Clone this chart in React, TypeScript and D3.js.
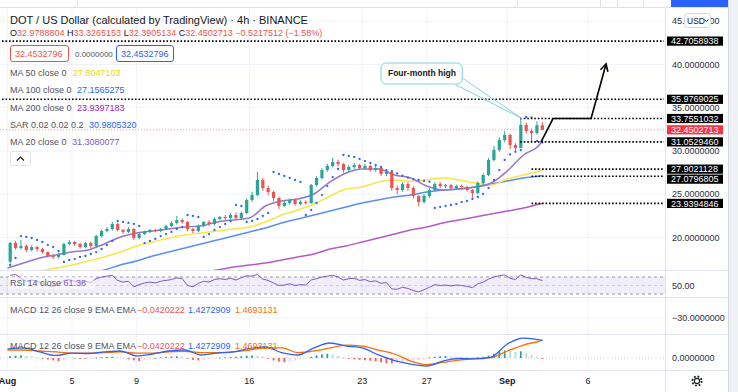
import React from "react";
import * as d3 from "d3";

// 8h candles from Aug 1 (open of first candle, then closes / highs / lows)
const firstOpen = 17.2;
const closes = [
  19.36, 18.79, 19.02, 18.55, 18.9, 18.67, 18.32, 17.86, 17.75, 17.98,
  19.25, 19.48, 19.25, 18.9, 19.36, 19.02, 20.17, 20.75, 20.98, 21.56,
  20.87, 20.64, 20.98, 19.94, 20.4, 20.64, 20.87, 20.75, 20.98, 21.33,
  21.68, 22.02, 21.79, 20.98, 20.75, 21.33, 21.79, 21.56, 22.14, 22.37,
  22.25, 22.6, 22.25, 22.83, 24.34, 24.91, 26.65, 25.72, 25.26, 24.57,
  23.64, 23.99, 24.34, 23.87, 24.1, 23.99, 26.07, 26.88, 27.8, 28.27,
  28.73, 28.5, 27.8, 28.15, 28.38, 28.03, 28.27, 27.8, 28.03, 27.34,
  27.57, 25.72, 25.49, 26.18, 25.72, 24.8, 24.1, 24.8, 25.49, 26.18,
  25.95, 26.05, 25.72, 25.95, 25.84, 25.49, 25.14, 26.3, 27.23, 28.96,
  30.12, 31.27, 31.85, 30.69, 30.35, 33.01, 32.31, 32.08, 32.98, 32.45,
];
const highs = [
  19.5, 19.6, 19.7, 19.2, 19.1, 19.0, 18.8, 18.4, 18.1, 18.2,
  19.4, 19.7, 19.6, 19.4, 19.5, 19.5, 20.3, 20.9, 21.2, 21.8,
  21.7, 21.0, 21.2, 21.1, 20.6, 20.8, 21.0, 21.0, 21.1, 21.5,
  21.9, 22.5, 22.2, 21.9, 21.1, 21.5, 21.9, 22.0, 22.3, 22.5,
  22.6, 22.8, 22.9, 23.0, 24.5, 25.3, 27.6, 26.9, 26.0, 25.4,
  24.7, 24.3, 24.5, 24.5, 24.3, 24.3, 26.2, 27.1, 28.0, 28.5,
  29.2, 29.0, 28.6, 28.4, 28.6, 28.5, 28.5, 28.4, 28.3, 28.1,
  27.75, 27.6, 26.0, 26.4, 26.4, 25.9, 24.9, 25.0, 25.7, 26.4,
  26.4, 26.2, 26.2, 26.1, 26.1, 26.0, 25.6, 26.5, 27.4, 29.2,
  30.6, 31.6, 32.3, 32.0, 30.9, 33.76, 33.3, 32.6, 33.4, 33.33,
];
const lows = [
  17.0, 18.6, 18.6, 18.3, 18.4, 18.4, 18.1, 17.7, 17.5, 17.6,
  17.9, 19.1, 19.0, 18.7, 18.8, 18.8, 18.9, 20.0, 20.6, 20.8,
  20.7, 20.4, 20.5, 19.7, 19.8, 20.3, 20.5, 20.6, 20.6, 20.9,
  21.2, 21.5, 21.6, 20.7, 20.5, 20.6, 21.2, 21.3, 21.4, 22.0,
  22.0, 22.1, 22.0, 22.1, 22.7, 24.1, 24.8, 25.4, 24.9, 24.2,
  23.3, 23.5, 23.8, 23.7, 23.7, 23.8, 23.9, 25.9, 26.7, 27.6,
  28.1, 28.2, 27.5, 27.6, 27.9, 27.8, 27.8, 27.6, 27.6, 27.1,
  27.1, 25.4, 25.0, 25.3, 25.4, 24.5, 23.6, 23.9, 24.6, 25.3,
  25.7, 25.7, 25.5, 25.6, 25.6, 25.3, 24.6, 25.0, 26.1, 27.1,
  28.8, 29.9, 31.0, 30.2, 29.95, 30.3, 32.0, 31.1, 31.9, 32.39,
];
const sar = [
  16.82, 17.63, 20.17, 20.06, 19.94, 19.71, 19.48, 19.13, 18.9, 18.44,
  17.17, 17.4, 17.51, 17.75, 17.86, 18.09, 18.32, 18.67, 19.13, 19.6,
  21.91, 21.79, 21.68, 21.56, 21.33, 19.36, 19.6, 19.83, 20.17, 20.4,
  20.64, 20.98, 21.21, 22.6, 22.49, 22.37, 20.06, 20.4, 20.87, 21.21,
  21.56, 21.91, 23.76, 23.64, 21.79, 21.91, 22.14, 22.49, 22.83, 27.57,
  27.34, 27.11, 26.88, 26.65, 26.42, 22.6, 23.18, 23.99, 24.91, 25.95,
  26.99, 27.92, 29.54, 29.42, 29.31, 29.08, 28.84, 28.61, 28.38, 28.15,
  27.8, 27.66, 27.4, 27.15, 26.92, 26.76, 26.65, 26.53, 26.45, 23.41,
  23.53, 23.64, 23.76, 23.87, 24.1, 24.22, 24.45, 24.68, 25.03, 25.72,
  26.65, 27.8, 28.96, 29.6, 29.9, 30.1, 33.93, 33.87, 31.16, 30.98,
];
const rsi = [
  74, 76, 67, 60, 63, 60, 55, 50, 48, 52,
  62, 64, 60, 56, 60, 57, 66, 70, 72, 74,
  62, 58, 60, 47, 52, 56, 58, 56, 60, 62,
  64, 68, 66, 50, 47, 55, 60, 58, 64, 66,
  64, 67, 63, 68, 73, 72, 76, 65, 62, 56,
  50, 51, 54, 50, 52, 51, 63, 66, 70, 72,
  74, 70, 63, 66, 67, 62, 64, 59, 61, 55,
  57, 42, 41, 46, 43, 38, 35, 40, 46, 52,
  50, 51, 49, 51, 50, 48, 45, 54, 58, 65,
  70, 73, 75, 67, 64, 75, 69, 66, 66, 61.38,
];
const hist = [
  0.15, 0.2, 0.22, 0.18, 0.12, 0.06, -0.05, -0.12, -0.2, -0.25,
  -0.15, -0.05, 0.02, -0.04, -0.06, -0.03, 0.03, 0.06, 0.08, 0.1,
  0.06, 0.0, -0.1, -0.2, -0.24, -0.16, -0.08, 0.0, 0.06, 0.1,
  0.12, 0.15, 0.1, -0.05, -0.15, -0.2, -0.12, -0.06, -0.02, 0.02,
  0.05, 0.08, 0.1, 0.15, 0.2, 0.22, 0.2, 0.12, -0.05, -0.2,
  -0.3, -0.35, -0.3, -0.22, -0.12, -0.02, 0.1, 0.22, 0.3, 0.35,
  0.3, 0.18, 0.05, -0.05, -0.1, -0.14, -0.18, -0.22, -0.28, -0.35,
  -0.42, -0.45, -0.42, -0.36, -0.3, -0.25, -0.18, -0.12, 0.05, 0.1,
  0.14, 0.16, 0.14, 0.12, 0.1, 0.08, 0.05, 0.06, 0.1, 0.2,
  0.35, 0.5, 0.62, 0.58, 0.5, 0.55, 0.4, 0.25, 0.1, -0.04,
];

// daily samples of the smooth indicator lines (days since Aug 1)
const dayGrid = [
  0, 1, 2, 3, 4, 5, 6, 7, 8, 9, 10, 11, 12, 13, 14, 15, 16, 17,
  18, 19, 20, 21, 22, 23, 24, 25, 26, 27, 28, 29, 30, 31, 32, 33, 33.17,
];
const ma20 = [
  16.47, 17.05, 17.63, 17.98, 18.32, 18.55, 19.25, 20.06, 20.52, 20.75,
  20.98, 21.21, 21.33, 21.79, 22.02, 22.25, 23.64, 24.22, 24.45, 25.03,
  26.42, 27.46, 27.92, 27.92, 27.23, 26.88, 25.95, 25.49, 25.61, 25.84,
  26.3, 27.69, 29.54, 30.75, 31.31,
];
const ma50 = [
  null, null, 16.1, 16.47, 16.82, 17.28, 17.75, 18.32, 19.02, 19.48,
  19.94, 20.29, 20.52, 20.75, 20.98, 21.21, 21.79, 22.6, 23.18, 23.87,
  24.8, 25.61, 25.84, 26.42, 26.65, 26.53, 26.65, 26.88, 26.65, 26.3,
  26.07, 26.76, 27.23, 27.69, 27.8,
];
const ma100 = [
  null, null, null, null, null, 15.7, 16.24, 16.82, 17.28, 17.86,
  18.32, 18.79, 19.25, 19.71, 20.17, 20.64, 21.1, 21.68, 22.14, 22.6,
  23.06, 23.53, 23.99, 24.34, 24.68, 24.91, 25.26, 25.49, 25.61, 25.84,
  26.18, 26.53, 26.88, 27.11, 27.16,
];
const ma200 = [
  null, null, null, null, null, null, null, null, null, null,
  null, null, 15.95, 16.24, 16.59, 16.82, 17.05, 17.4, 17.75, 18.09,
  18.67, 19.02, 19.48, 19.94, 20.4, 20.87, 21.21, 21.68, 22.02, 22.37,
  22.72, 23.06, 23.41, 23.87, 23.94,
];
const macdLine = [
  0.74, 0.83, 0.5, 0.21, 0.41, 0.37, 0.5, 0.58, 0.17, 0.33,
  0.58, 0.66, 0.25, 0.41, 0.5, 0.79, 0.91, 0.45, 0.25, 0.83,
  1.24, 0.99, 0.83, 0.25, -0.21, -0.5, -0.66, -0.25, -0.04, -0.08,
  0.08, 1.16, 1.65, 1.49, 1.43,
];
const signalLine = [
  0.66, 0.66, 0.58, 0.5, 0.41, 0.41, 0.45, 0.5, 0.41, 0.41,
  0.5, 0.54, 0.45, 0.45, 0.5, 0.66, 0.83, 0.83, 0.45, 0.58,
  0.83, 1.07, 0.99, 0.66, 0.33, -0.25, -0.54, -0.37, -0.17, -0.04,
  0.04, 0.58, 1.07, 1.4, 1.47,
];

const tickDays = [0, 4, 8, 15, 22, 26, 31, 36];
const tickLabels = ["Aug", "5", "9", "16", "23", "27", "Sep", "6"];
const priceTicks = [20, 25, 30, 35, 40, 45];

const levelPrices = [42.7058938, 35.9769025, 33.7551032, 31.052946, 27.9021128, 27.0796805, 23.9394846];
const levelStartDays = [-1, -1, 31.8, 31.8, 32.5, 32.5, 32.5];
const lastPrice = 32.4502713;

const arrowDays = [33.09, 33.83, 36.19, 37.12];
const arrowPrices = [31.052946, 33.7551032, 33.7551032, 40.06];
const calloutDays = [23.16, 28.2];
const calloutPrices = [40.17, 37.75];
const calloutTip = [31.9, 33.7551032];

const UP = "#26a69a";
const DOWN = "#ef5350";
const FONT = "'Liberation Sans', Arial, sans-serif";

export default function App() {
  const x = d3.scaleLinear().domain([0, 36]).range([7.5, 588]);
  const y = d3.scaleLinear().domain([20, 45]).range([237.5, 21.25]);
  const yRsi = d3.scaleLinear().domain([30, 70]).range([294, 277]);
  const yMacd = d3.scaleLinear().domain([0, 1.43]).range([358, 340.7]);
  const ct = (i: number) => i / 3 + 1 / 6;

  const maPath = (vals: (number | null)[]) =>
    d3
      .line<number | null>()
      .defined((v) => v != null)
      .x((_, i) => x(dayGrid[i]))
      .y((v) => y(v as number))
      .curve(d3.curveMonotoneX)(vals) || "";

  const macdPath = (vals: number[]) =>
    d3
      .line<number>()
      .x((_, i) => x(dayGrid[i]))
      .y((v) => yMacd(v))
      .curve(d3.curveMonotoneX)(vals) || "";

  const rsiPath =
    d3
      .line<number>()
      .x((_, i) => x(ct(i)))
      .y((v) => yRsi(v))(rsi) || "";

  const arrowPts = arrowDays.map((d, i) => [x(d), y(arrowPrices[i])]);
  const tip = arrowPts[arrowPts.length - 1];
  const prev = arrowPts[arrowPts.length - 2];
  const ang = Math.atan2(tip[1] - prev[1], tip[0] - prev[0]);
  const wing = (a: number) => [tip[0] - 8 * Math.cos(ang + a), tip[1] - 8 * Math.sin(ang + a)];
  const w1 = wing(0.5);
  const w2 = wing(-0.5);

  const bx0 = x(calloutDays[0]);
  const bx1 = x(calloutDays[1]);
  const by0 = y(calloutPrices[0]);
  const by1 = y(calloutPrices[1]);
  const tx = x(calloutTip[0]);
  const ty = y(calloutTip[1]);

  const gray = "#50535e";

  // axis labels: all levels plus the last price, pushed apart when they collide
  const axisLabels = levelPrices
    .map((p) => ({ p, bg: "#000" }))
    .concat([{ p: lastPrice, bg: "#f23645" }])
    .sort((a, b) => b.p - a.p);
  let prevY = -Infinity;
  const placed = axisLabels.map((l) => {
    const cy = Math.max(y(l.p), prevY + 10);
    prevY = cy;
    return { ...l, cy };
  });

  return (
    <svg
      width={738}
      height={392}
      style={{ position: "absolute", left: 0, top: 0, background: "#fff" }}
      fontFamily={FONT}
    >
      <defs>
        <clipPath id="mainClip">
          <rect x={0} y={8} width={665} height={262} />
        </clipPath>
        <clipPath id="macdClip">
          <rect x={0} y={334} width={665} height={36} />
        </clipPath>
      </defs>
      <rect width={738} height={392} fill="#fff" />

      {/* grid */}
      {tickDays.map((d) => (
        <line key={"vg" + d} x1={x(d)} x2={x(d)} y1={8} y2={370} stroke="#f0f3fa" />
      ))}
      {priceTicks.map((p) => (
        <line key={"hg" + p} x1={0} x2={665} y1={y(p)} y2={y(p)} stroke="#f0f3fa" />
      ))}
      <line x1={0} x2={665} y1={318} y2={318} stroke="#f0f3fa" />

      {/* main pane */}
      <g clipPath="url(#mainClip)">
        <line x1={0} x2={665} y1={y(lastPrice)} y2={y(lastPrice)} stroke={DOWN} strokeOpacity={0.6} strokeDasharray="1 2" />
        <path d={maPath(ma200)} fill="none" stroke="#b55ac9" strokeWidth={1.5} />
        <path d={maPath(ma100)} fill="none" stroke="#5b8df7" strokeWidth={1.5} />
        <path d={maPath(ma50)} fill="none" stroke="#f9e547" strokeWidth={1.5} />
        <path d={maPath(ma20)} fill="none" stroke="#9575cd" strokeWidth={1.5} />
        {closes.map((c, i) => {
          const o = i === 0 ? firstOpen : closes[i - 1];
          const col = c >= o ? UP : DOWN;
          const cx = x(ct(i));
          const top = y(Math.max(o, c));
          const bot = y(Math.min(o, c));
          return (
            <g key={"c" + i}>
              <line x1={cx} x2={cx} y1={y(highs[i])} y2={y(lows[i])} stroke={col} strokeWidth={1} />
              <rect x={cx - 1.6} y={top} width={3.2} height={Math.max(1, bot - top)} fill={col} />
            </g>
          );
        })}
        {sar.map((s, i) => (
          <circle key={"s" + i} cx={x(ct(i))} cy={y(s)} r={1.15} fill="#2962ff" />
        ))}
      </g>

      {/* RSI pane */}
      <rect x={0} y={yRsi(70)} width={665} height={yRsi(30) - yRsi(70)} fill="#7e57c2" fillOpacity={0.1} />
      <line x1={0} x2={665} y1={yRsi(70)} y2={yRsi(70)} stroke="#9598a1" strokeDasharray="3 3" />
      <line x1={0} x2={665} y1={yRsi(50)} y2={yRsi(50)} stroke="#b2b5be" strokeDasharray="3 3" strokeOpacity={0.6} />
      <line x1={0} x2={665} y1={yRsi(30)} y2={yRsi(30)} stroke="#9598a1" strokeDasharray="3 3" />
      <path d={rsiPath} fill="none" stroke="#7e57c2" strokeWidth={1} />

      {/* MACD pane */}
      <line x1={0} x2={665} y1={yMacd(0)} y2={yMacd(0)} stroke="#c8cad2" strokeDasharray="1 2" />
      <g clipPath="url(#macdClip)">
        {hist.map((h, i) => {
          const p = i === 0 ? 0 : hist[i - 1];
          const col = h >= 0 ? (h >= p ? UP : "#b2dfdb") : h <= p ? "#ff5252" : "#ffcdd2";
          const y0 = yMacd(0);
          const y1 = yMacd(h);
          return (
            <rect key={"h" + i} x={x(ct(i)) - 0.9} y={Math.min(y0, y1)} width={1.8} height={Math.max(0.8, Math.abs(y1 - y0))} fill={col} />
          );
        })}
        <path d={macdPath(signalLine)} fill="none" stroke="#ff6d00" strokeWidth={1.3} />
        <path d={macdPath(macdLine)} fill="none" stroke="#2962ff" strokeWidth={1.3} />
      </g>

      {/* pane separators / borders */}
      {[270, 297, 334, 370].map((v) => (
        <line key={"sep" + v} x1={0} x2={728} y1={v + 0.5} y2={v + 0.5} stroke="#e0e3eb" />
      ))}
      <line x1={665.5} x2={665.5} y1={8} y2={392} stroke="#e0e3eb" />

      {/* dotted level lines */}
      {levelPrices.map((p, i) => (
        <line
          key={"lv" + i}
          x1={levelStartDays[i] < 0 ? 2 : x(levelStartDays[i])}
          x2={664}
          y1={y(p)}
          y2={y(p)}
          stroke="#000"
          strokeWidth={1.6}
          strokeDasharray="1.6 1.9"
        />
      ))}

      {/* callout */}
      <path
        d={`M${bx1 - 8},${by1} L${tx},${ty} L${bx1},${by1 - 6}`}
        fill="none"
        stroke="#80d3d9"
        strokeWidth={1}
      />
      <rect x={bx0} y={by0} width={bx1 - bx0} height={by1 - by0} rx={5} fill="#fff" stroke="#80d3d9" />
      <line x1={bx1 - 8} x2={bx1 - 1} y1={by1} y2={by1 - 6} stroke="#fff" strokeWidth={1.5} />
      <text x={bx0 + 7} y={(by0 + by1) / 2 + 3} fontSize={8.5} fontWeight="bold" fill="#131722">
        Four-month high
      </text>

      {/* arrow */}
      <polyline points={arrowPts.map((p) => p.join(",")).join(" ")} fill="none" stroke="#000" strokeWidth={1.6} strokeLinejoin="round" />
      <polyline points={`${w1.join(",")} ${tip.join(",")} ${w2.join(",")}`} fill="none" stroke="#000" strokeWidth={1.6} />

      {/* legend: main */}
      <text x={10} y={24} fontSize={11} fill="#131722">
        DOT / US Dollar (calculated by TradingView) · 4h · BINANCE
      </text>
      <text x={10} y={36} fontSize={9} fill="#131722">
        O<tspan fill={DOWN}>32.9788804</tspan> H<tspan fill={DOWN}>33.3265153</tspan> L
        <tspan fill={DOWN}>32.3905134</tspan> C<tspan fill={DOWN}>32.4502713</tspan>
        <tspan fill={DOWN}> −0.5217512 (−1.58%)</tspan>
      </text>
      <rect x={10.5} y={45.5} width={58} height={16} rx={2.5} fill="#fff" stroke={DOWN} />
      <text x={15} y={56.5} fontSize={9} fill={DOWN}>32.4532796</text>
      <text x={75} y={56.5} fontSize={8} fill={gray}>0.0000000</text>
      <rect x={116.5} y={45.5} width={57} height={16} rx={2.5} fill="#fff" stroke="#2962ff" />
      <text x={121} y={56.5} fontSize={9} fill="#2962ff">32.4532796</text>

      <text x={10} y={76} fontSize={9} fill={gray}>MA 50 close 0</text>
      <text x={73} y={76} fontSize={9} fill="#f2d40b">27.8047103</text>
      <text x={10} y={93} fontSize={9} fill={gray}>MA 100 close 0</text>
      <text x={77} y={93} fontSize={9} fill="#2962ff">27.1565275</text>
      <text x={10} y={111} fontSize={9} fill={gray}>MA 200 close 0</text>
      <text x={77} y={111} fontSize={9} fill="#9c27b0">23.9397183</text>
      <text x={10} y={128} fontSize={9} fill={gray}>SAR 0.02 0.02 0.2</text>
      <text x={89} y={128} fontSize={9} fill="#2962ff">30.9805320</text>
      <text x={10} y={145} fontSize={9} fill={gray}>MA 20 close 0</text>
      <text x={72} y={145} fontSize={9} fill="#7e57c2">31.3080077</text>
      <rect x={10.5} y={151.5} width={20} height={14} rx={2.5} fill="#fff" stroke="#e0e3eb" />
      <path d="M17,160.5 L20.5,157 L24,160.5" fill="none" stroke="#131722" strokeWidth={1.2} />

      {/* legend: RSI / MACD */}
      <rect x={8} y={277} width={86} height={12} fill="#fff" fillOpacity={0.55} />
      <text x={10} y={286} fontSize={9} fill={gray}>
        RSI 14 close <tspan fill="#7e57c2">61.38</tspan>
      </text>
      {[313, 349].map((b) => (
        <g key={"ml" + b}>
          <text x={10} y={b} fontSize={9} fill={gray}>MACD 12 26 close 9 EMA EMA</text>
          <text x={137} y={b} fontSize={9} fill={DOWN}>−0.0420222</text>
          <text x={188} y={b} fontSize={9} fill="#2962ff">1.4272909</text>
          <text x={235} y={b} fontSize={9} fill="#ff6d00">1.4693131</text>
        </g>
      ))}

      {/* price axis */}
      {priceTicks.map((p) => (
        <text key={"pt" + p} x={672} y={y(p) + 3.2} fontSize={9} fill="#2a2e39">
          {p.toFixed(7)}
        </text>
      ))}
      <rect x={684.5} y={13.5} width={26} height={14} rx={3} fill="#fff" stroke="#d1d4dc" />
      <text x={687} y={23.5} fontSize={8.5} fill="#131722">USD</text>
      <path d="M704.5,19.5 L706.5,21.5 L708.5,19.5" fill="none" stroke="#131722" strokeWidth={1} />
      {placed.map((l, i) => (
        <g key={"pl" + i}>
          <rect x={667} y={l.cy - 4.6} width={56} height={9.2} fill={l.bg} />
          <text x={671} y={l.cy + 3.2} fontSize={9} fill="#fff">
            {l.p.toFixed(7)}
          </text>
        </g>
      ))}

      <text x={672} y={yRsi(50) + 3.2} fontSize={9} fill="#2a2e39">50.00</text>
      <text x={672} y={321} fontSize={9} fill="#2a2e39">−30.0000000</text>
      <text x={672} y={yMacd(0) + 3.2} fontSize={9} fill="#2a2e39">0.0000000</text>

      {/* time axis */}
      {tickDays.map((d, i) => (
        <text
          key={"tl" + d}
          x={x(d)}
          y={384}
          fontSize={9}
          textAnchor="middle"
          fill="#131722"
          fontWeight={tickLabels[i] === "Sep" || tickLabels[i] === "Aug" ? "bold" : "normal"}
        >
          {tickLabels[i]}
        </text>
      ))}
      <circle cx={697} cy={381} r={2.6} fill="none" stroke="#131722" strokeWidth={1.1} />
      <circle cx={697} cy={381} r={4.6} fill="none" stroke="#131722" strokeWidth={1.8} strokeDasharray="1.8 1.8" />

      {/* top toolbar strip and right edge */}
      <line x1={0} x2={728} y1={7.5} y2={7.5} stroke="#e0e3eb" />
      {[77, 517, 600, 617, 643].map((v) => (
        <line key={"tb" + v} x1={v + 0.5} x2={v + 0.5} y1={0} y2={7} stroke="#e0e3eb" />
      ))}
      <rect x={671} y={0} width={57} height={7} fill="#2962ff" />
      <line x1={728.5} x2={728.5} y1={0} y2={392} stroke="#d1d4dc" />
      <rect x={729} y={0} width={9} height={392} fill="#eef0f4" />
    </svg>
  );
}
